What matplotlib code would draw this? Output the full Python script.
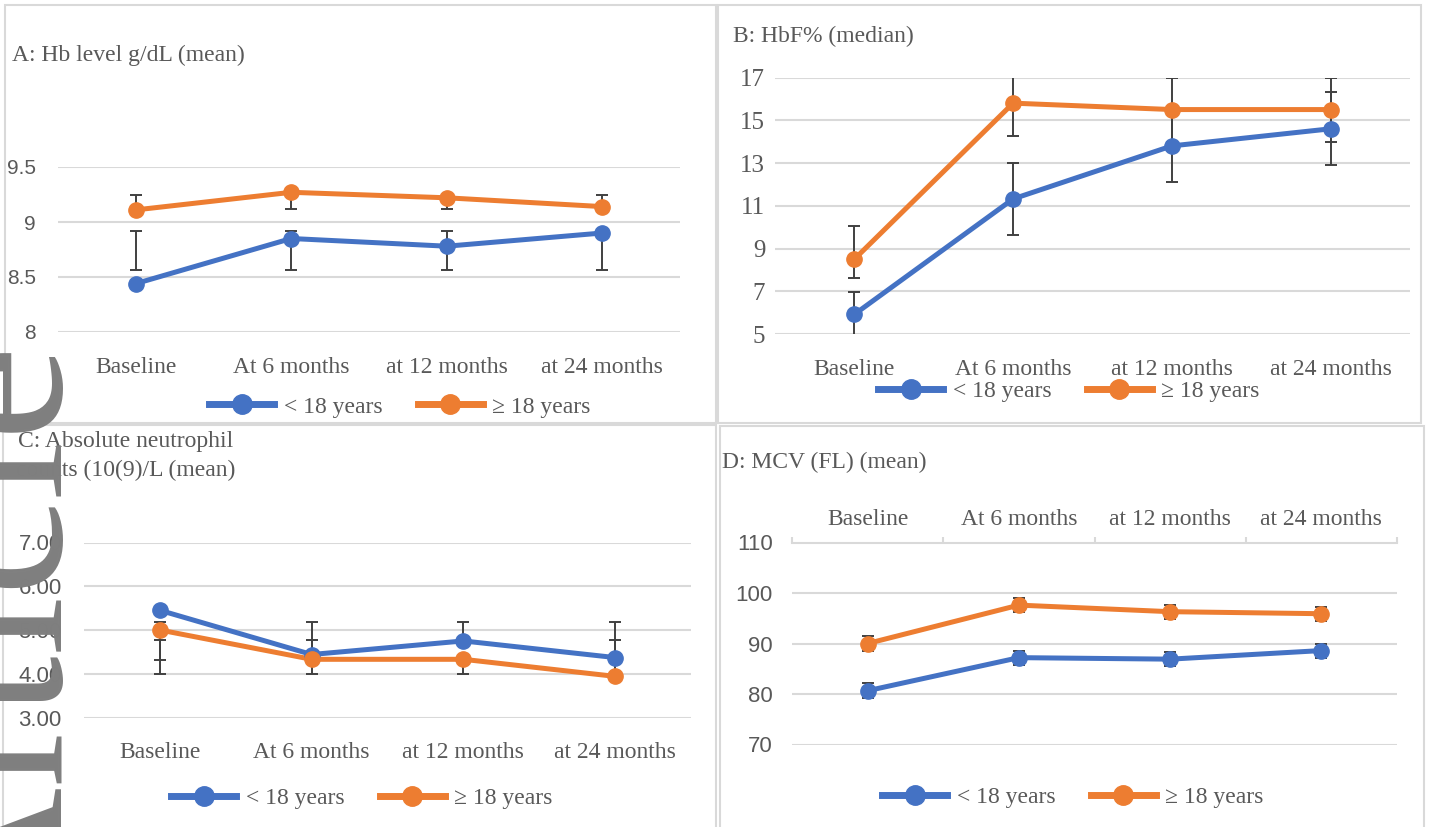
import matplotlib
matplotlib.use('Agg')
import matplotlib.pyplot as plt
from matplotlib.lines import Line2D
from matplotlib.patches import Rectangle
import numpy as np

W, H = 1430, 827

# 데이터
categories = ['Baseline', 'At 6 months', 'at 12 months', 'at 24 months']
series_names = ['< 18 years', '≥ 18 years']

# A: Hb level
hb_under18 = [8.44, 8.85, 8.78, 8.90]
hb_over18 = [9.11, 9.27, 9.22, 9.14]
hb_under18_lo = [8.56, 8.56, 8.56, 8.56]
hb_under18_hi = [8.92, 8.92, 8.92, 8.90]
hb_over18_lo = [9.11, 9.12, 9.12, 9.14]
hb_over18_hi = [9.25, 9.27, 9.22, 9.25]

# B: HbF%
hbf_under18 = [5.92, 11.32, 13.8, 14.6]
hbf_over18 = [8.5, 15.8, 15.5, 15.5]
hbf_under18_lo = [4.5, 9.63, 12.1, 12.9]
hbf_under18_hi = [6.98, 12.98, 15.5, 16.3]
hbf_over18_lo = [7.6, 14.27, 14.0, 13.96]
hbf_over18_hi = [10.05, 17.5, 17.0, 17.0]

# C: absolute neutrophil counts
anc_under18 = [5.45, 4.44, 4.75, 4.37]
anc_over18 = [5.0, 4.33, 4.33, 3.94]
anc_under18_lo = [4.31, 4.44, 4.75, 4.37]
anc_under18_hi = [4.77, 5.18, 5.18, 5.18]
anc_over18_lo = [4.0, 4.0, 4.0, 3.94]
anc_over18_hi = [5.18, 4.77, 4.33, 4.77]

# D: MCV
mcv_under18 = [80.65, 87.2, 86.9, 88.6]
mcv_over18 = [90.0, 97.6, 96.3, 95.9]
mcv_under18_lo = [79.2, 85.8, 85.5, 87.2]
mcv_under18_hi = [82.1, 88.6, 88.3, 90.0]
mcv_over18_lo = [88.6, 96.2, 94.9, 94.5]
mcv_over18_hi = [91.4, 99.0, 97.7, 97.3]

BLUE = '#4472C4'
ORANGE = '#ED7D31'
GRAY_TXT = '#595959'
GRID = '#d9d9d9'
SERIF = ['Liberation Serif', 'DejaVu Serif']
SANS = ['Liberation Sans', 'DejaVu Sans']


def box(l, t, r, b):
    return [l / W, 1 - b / H, (r - l) / W, (b - t) / H]


def draw_series(ax, vals, lo, hi, color):
    x = np.arange(len(vals))
    ax.plot(x, vals, color=color, lw=3.6, solid_capstyle='round', zorder=2)
    lo = np.array(lo)
    hi = np.array(hi)
    ax.errorbar(x, (lo + hi) / 2, yerr=(hi - lo) / 2, fmt='none',
                ecolor='#404040', elinewidth=1.4, capsize=4.5, capthick=1.4, zorder=3)
    ax.plot(x, vals, linestyle='none', marker='o', ms=11, color=color, zorder=4)


def setup(ax, ylim, yticks, ylabels, ysize, yfont, ypad, top=False):
    ax.set_xlim(-0.5, 3.5)
    ax.set_ylim(*ylim)
    ax.set_yticks(yticks)
    ax.set_yticklabels(ylabels, fontsize=ysize, family=yfont, color=GRAY_TXT)
    ax.tick_params(axis='y', length=0, pad=ypad)
    ax.yaxis.grid(True, color=GRID, lw=1.5)
    ax.set_axisbelow(True)
    for s in ax.spines.values():
        s.set_visible(False)
    if top:
        ax.xaxis.tick_top()
        ax.set_xticks([-0.5, 0.5, 1.5, 2.5, 3.5])
        ax.set_xticklabels([])
        ax.set_xticks(np.arange(4), minor=True)
        ax.set_xticklabels(categories, minor=True, fontsize=17, family=SERIF, color=GRAY_TXT)
        ax.tick_params(axis='x', which='major', length=4, width=1.5, color=GRID, top=True, bottom=False)
        ax.tick_params(axis='x', which='minor', length=0, pad=9, top=True, bottom=False)
        ax.spines['top'].set_visible(True)
        ax.spines['top'].set_color(GRID)
        ax.spines['top'].set_linewidth(1.5)
        ax.spines['top'].set_zorder(5)
        for t in ax.get_yticklabels():
            t.set_va('center_baseline')
    else:
        ax.set_xticks(np.arange(4))
        ax.set_xticklabels(categories, fontsize=17, family=SERIF, color=GRAY_TXT)
        ax.tick_params(axis='x', length=0, pad=18)


def legend(fig, cx, cy):
    handles = [Line2D([], [], color=BLUE, lw=5, marker='o', ms=14),
               Line2D([], [], color=ORANGE, lw=5, marker='o', ms=14)]
    leg = fig.legend(handles, series_names, loc='center', bbox_to_anchor=(cx / W, 1 - cy / H),
                     ncol=2, frameon=False, prop={'family': SERIF, 'size': 17},
                     handlelength=2.75, handletextpad=0.4, columnspacing=1.5)
    for t in leg.get_texts():
        t.set_color(GRAY_TXT)


fig = plt.figure(figsize=(14.3, 8.27), dpi=100)

# 패널 테두리
for l, t, r, b in [(5, 5, 716, 423), (718, 5, 1421, 423), (3, 425, 716, 832), (720, 426, 1424, 832)]:
    fig.add_artist(Rectangle((l / W, 1 - b / H), (r - l) / W, (b - t) / H,
                             transform=fig.transFigure, fill=False, ec=GRID, lw=1.5, zorder=-1))

# A
axA = fig.add_axes(box(58, 167, 680, 332))
setup(axA, (8, 9.5), [8, 8.5, 9, 9.5], ['8', '8.5', '9', '9.5'], 15, SANS, 16)
draw_series(axA, hb_under18, hb_under18_lo, hb_under18_hi, BLUE)
draw_series(axA, hb_over18, hb_over18_lo, hb_over18_hi, ORANGE)
fig.text(12 / W, 1 - 55 / H, 'A: Hb level g/dL (mean)', fontsize=17, family=SERIF, color=GRAY_TXT, va='center')
legend(fig, 400, 407)

# B
axB = fig.add_axes(box(775, 77.5, 1410, 334))
setup(axB, (5, 17), [5, 7, 9, 11, 13, 15, 17], ['5', '7', '9', '11', '13', '15', '17'], 18, SERIF, 7)
draw_series(axB, hbf_under18, hbf_under18_lo, hbf_under18_hi, BLUE)
draw_series(axB, hbf_over18, hbf_over18_lo, hbf_over18_hi, ORANGE)
fig.text(733 / W, 1 - 36 / H, 'B: HbF% (median)', fontsize=17, family=SERIF, color=GRAY_TXT, va='center')
legend(fig, 1069, 391)

# C
axC = fig.add_axes(box(84, 542.5, 691, 717.5))
setup(axC, (3, 7), [3, 4, 5, 6, 7], ['3.00', '4.00', '5.00', '6.00', '7.00'], 16, SANS, 16)
draw_series(axC, anc_under18, anc_under18_lo, anc_under18_hi, BLUE)
draw_series(axC, anc_over18, anc_over18_lo, anc_over18_hi, ORANGE)
fig.text(126 / W, 1 - 456 / H, 'C: Absolute neutrophil\ncounts (10(9)/L (mean)', fontsize=17, family=SERIF,
         color=GRAY_TXT, va='center', ha='center', multialignment='center', linespacing=1.45)
legend(fig, 362, 798)

# D
axD = fig.add_axes(box(792, 542.5, 1397, 744.5))
setup(axD, (70, 110), [70, 80, 90, 100, 110], ['70', '80', '90', '100', '110'], 16, SANS, 14, top=True)
draw_series(axD, mcv_under18, mcv_under18_lo, mcv_under18_hi, BLUE)
draw_series(axD, mcv_over18, mcv_over18_lo, mcv_over18_hi, ORANGE)
fig.text(722 / W, 1 - 462 / H, 'D: MCV (FL) (mean)', fontsize=17, family=SERIF, color=GRAY_TXT, va='center')
legend(fig, 1073, 797)

# 워터마크
fig.text(62 / W, 1 - 345 / H, 'Accepted Article', rotation=90, rotation_mode='anchor',
         ha='right', va='baseline', fontsize=155, family=SERIF, color='#7f7f7f', zorder=10)

plt.savefig('out.png', dpi=100)
